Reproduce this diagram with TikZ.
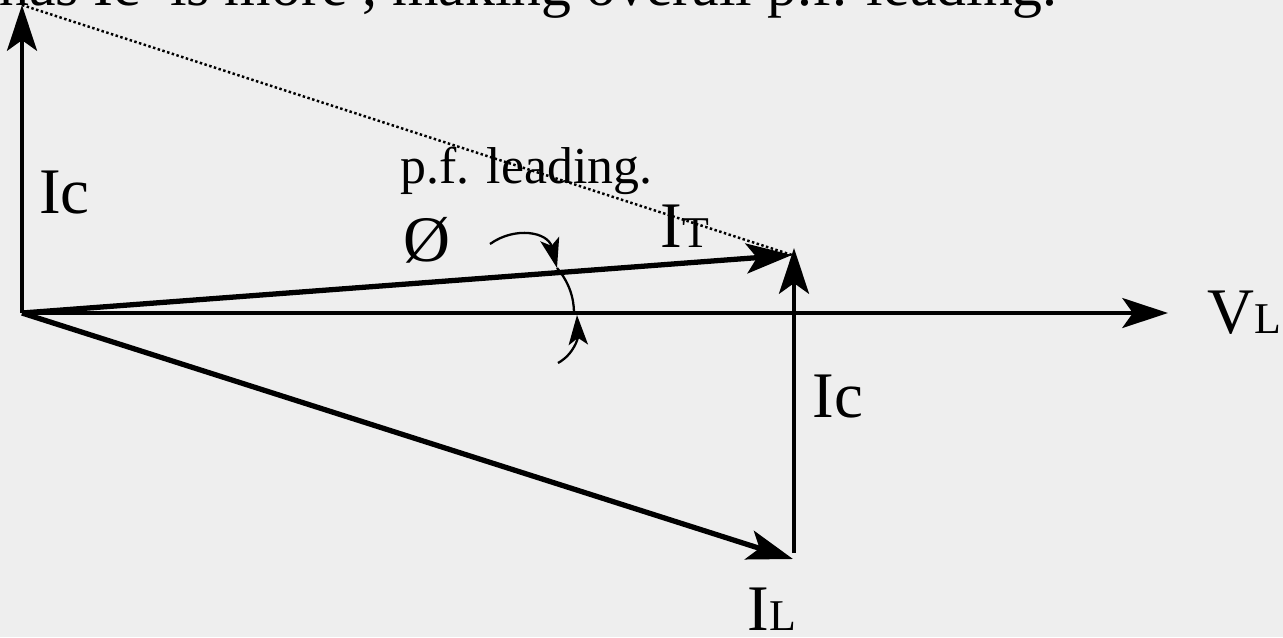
\documentclass[tikz,border=0pt]{standalone}
\usepackage{fontspec}
\setmainfont{Liberation Serif}
\usetikzlibrary{arrows.meta,positioning}
\definecolor{paper}{RGB}{238,238,238}
\newcommand{\low}[1]{{\fontsize{25}{25}\selectfont #1}}

\begin{document}
\begin{tikzpicture}[x=0.02cm, y=-0.02cm,
  >={Stealth[length=26pt, width=17pt, inset=6pt]},
  vec/.style={->, line width=2.6pt},
  lbl/.style={anchor=base west, inner sep=0pt, font=\fontsize{37}{40}\selectfont},
  turn/.style={line width=1.3pt},
  tipend/.style={-{Stealth[length=17pt, width=11pt, inset=4pt]}}]
\fill[paper] (0,0) rectangle (1283,637);
\useasboundingbox (0,0) rectangle (1283,637);
\clip (0,0) rectangle (1283,637);
\coordinate (o) at (22,313);
\coordinate (vl) at (1168,313);
\coordinate (ctop) at (22,5);
\coordinate (itip) at (792,255);
\coordinate (ltip) at (793,559);
\coordinate (cbot) at (794,553);
\coordinate (ctip) at (794,248);
\node[anchor=base east, inner sep=0pt, font=\fontsize{34}{40}\selectfont] (note) at (1058,5)
  {has Ic~ is more , making overall p.f. leading.};
\draw[dash pattern=on 1.4pt off 1.4pt, line width=1.4pt] (ctop) -- (itip);
\draw[->, line width=2.3pt] (o) -- (vl);
\draw[vec] (o) -- (ctop);
\draw[->, line width=3pt] (o) -- (itip);
\draw[->, line width=3pt] (o) -- (ltip);
\draw[vec] (cbot) -- (ctip);
\draw[turn, tipend] (490,244) .. controls (515,226) and (548,232) .. (557,268);
\draw[turn] (557,268) .. controls (569,282) and (574,298) .. (574,313);
\draw[turn, tipend] (558,363) .. controls (574,354) and (578,338) .. (577,315);
\node[lbl] (icl) at (39,213) {Ic};
\node[lbl] (phi) at (403,261) {Ø};
\node[lbl, font=\fontsize{29.5}{34}\selectfont] (pf) at (400,183) {p.f. leading.};
\node[lbl] (it) at (660,247) {I\low{T}};
\node[lbl] (vlab) at (1207,333) {V\low{L}};
\node[lbl] (icr) at (812,417) {Ic};
\node[lbl] (il) at (747,630) {I\low{L}};
\end{tikzpicture}
\end{document}
